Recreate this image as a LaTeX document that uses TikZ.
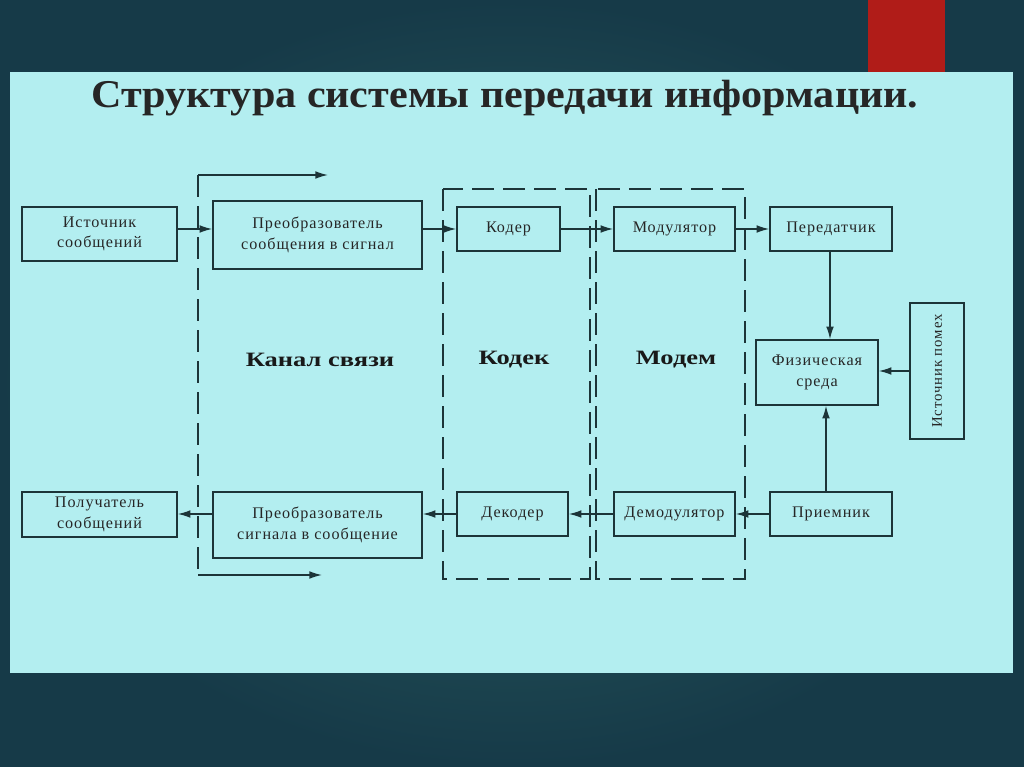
\documentclass[tikz,border=0pt]{standalone}
\usepackage{fontspec}
\setmainfont{Liberation Serif}
\newfontfamily\boxfont[LetterSpace=6]{Liberation Serif}
\usetikzlibrary{positioning,arrows.meta,calc}
\definecolor{panel}{RGB}{179,238,240}
\definecolor{ink}{RGB}{28,52,56}
\definecolor{bgdark}{RGB}{22,58,72}
\definecolor{bglight}{RGB}{44,96,98}
\definecolor{redbar}{RGB}{176,28,24}
\newcommand{\widetext}[1]{\scalebox{1.3}[1]{#1}}
\tikzset{
  arr/.style={line width=1pt, draw=ink, -{Latex[length=9pt,width=5.5pt]}},
}

\begin{document}
\begin{tikzpicture}[x=0.025cm, y=-0.025cm,
  blok/.style={
    draw=ink,
    line width=1.1pt,
    inner sep=0pt,
    align=center,
    font=\boxfont\fontsize{11.5}{14.5}\selectfont,
    text=black!85
  },
  frame/.style={draw=ink, line width=1pt, dash pattern=on 0.55cm off 0.225cm},
  title/.style={font=\bfseries\fontsize{14.5}{16}\selectfont, text=black!90}
]
 % background and panel
 \useasboundingbox (0,0) rectangle (1024,767);
 \shade[inner color=bglight, outer color=bgdark] (0,0) rectangle (1024,767);
 \fill[redbar] (868,0) rectangle (945,72);
 \fill[panel] (10,72) rectangle (1013,673);
 \node[font=\bfseries\fontsize{28}{32}\selectfont, text=black!85, anchor=base] (head) at (505,108)
   {\scalebox{1.07}[1]{Структура системы передачи информации.}};

 % frames
 \draw[frame] (443,189) rectangle (590,579);
 \draw[frame] (596,189) rectangle (745,579);
 \coordinate (ktop) at (198,175);
 \coordinate (kbot) at (198,575);
 \coordinate (ktopend) at (328,175);
 \coordinate (kbotend) at (322,575);
 \draw[frame] (ktop) -- (kbot);
 \draw[arr] (ktop) -- (ktopend);
 \draw[arr] (kbot) -- (kbotend);
 \node[title] (kanal) at (320,360) {\widetext{Канал связи}};
 \node[title] (kodek) at (514,360) {\widetext{Кодек}};
 \node[title] (modem) at (676,360) {\widetext{Модем}};

 % top row
 \node[blok, minimum width=155*0.025cm, minimum height=54*0.025cm] (src) at (99.5,234) {Источник\\сообщений};
 \node[blok, minimum width=209*0.025cm, minimum height=68*0.025cm] (conv1) at (317.5,235) {Преобразователь\\сообщения в сигнал};
 \node[blok, minimum width=103*0.025cm, minimum height=44*0.025cm] (coder) at (508.5,229) {Кодер};
 \node[blok, minimum width=121*0.025cm, minimum height=44*0.025cm] (mod) at (674.5,229) {Модулятор};
 \node[blok, minimum width=122*0.025cm, minimum height=44*0.025cm] (tx) at (831,229) {Передатчик};

 % middle
 \node[blok, minimum width=122*0.025cm, minimum height=65*0.025cm] (medium) at (817,372.5) {Физическая\\среда};
 \node[blok, minimum width=136*0.025cm, minimum height=54*0.025cm, rotate=90,
   font=\boxfont\fontsize{10.5}{13}\selectfont] (noise) at (937,371) {Источник помех};

 % bottom row
 \node[blok, minimum width=155*0.025cm, minimum height=45*0.025cm] (dst) at (99.5,514.5) {Получатель\\сообщений};
 \node[blok, minimum width=209*0.025cm, minimum height=66*0.025cm] (conv2) at (317.5,525) {Преобразователь\\сигнала в сообщение};
 \node[blok, minimum width=111*0.025cm, minimum height=44*0.025cm] (decoder) at (512.5,514) {Декодер};
 \node[blok, minimum width=121*0.025cm, minimum height=44*0.025cm] (demod) at (674.5,514) {Демодулятор};
 \node[blok, minimum width=122*0.025cm, minimum height=44*0.025cm] (rx) at (831,514) {Приемник};

 % connections
 \draw[arr] (src.east |- coder.west) -- (conv1.west |- coder.west);
 \draw[arr] (conv1.east |- coder.west) -- (coder.west);
 \draw[arr] (coder) -- (mod);
 \draw[arr] (mod) -- (tx);
 \draw[arr] ([xshift=-0.025cm]tx.south) -- ([xshift=-0.025cm]tx.south |- medium.north);
 \draw[arr] (noise.north) -- (noise.north -| medium.east);
 \draw[arr] ([xshift=-0.125cm]rx.north) -- ([xshift=-0.125cm]rx.north |- medium.south);
 \draw[arr] (rx) -- (demod);
 \draw[arr] (demod) -- (decoder);
 \draw[arr] (decoder.west) -- (decoder.west -| conv2.east);
 \draw[arr] (conv2.west |- decoder.west) -- (dst.east |- decoder.west);
\end{tikzpicture}
\end{document}
